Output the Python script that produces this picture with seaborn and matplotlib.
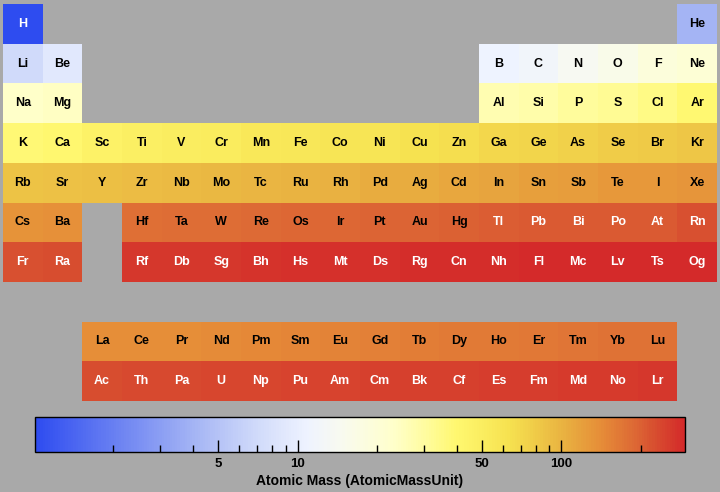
import numpy as np
import pandas as pd
import matplotlib
matplotlib.use("Agg")
import matplotlib.pyplot as plt
import seaborn as sns
from matplotlib.colors import LogNorm, LinearSegmentedColormap
from matplotlib.ticker import FixedLocator, NullFormatter, FixedFormatter

# ---- data ----
symbols = ["H", "He", "Li", "Be", "B", "C", "N", "O", "F", "Ne",
           "Na", "Mg", "Al", "Si", "P", "S", "Cl", "Ar",
           "K", "Ca", "Sc", "Ti", "V", "Cr", "Mn", "Fe", "Co", "Ni", "Cu", "Zn",
           "Ga", "Ge", "As", "Se", "Br", "Kr",
           "Rb", "Sr", "Y", "Zr", "Nb", "Mo", "Tc", "Ru", "Rh", "Pd", "Ag", "Cd",
           "In", "Sn", "Sb", "Te", "I", "Xe",
           "Cs", "Ba", "Hf", "Ta", "W", "Re", "Os", "Ir", "Pt", "Au", "Hg",
           "Tl", "Pb", "Bi", "Po", "At", "Rn",
           "Fr", "Ra", "Rf", "Db", "Sg", "Bh", "Hs", "Mt", "Ds", "Rg", "Cn",
           "Nh", "Fl", "Mc", "Lv", "Ts", "Og",
           "La", "Ce", "Pr", "Nd", "Pm", "Sm", "Eu", "Gd", "Tb", "Dy", "Ho",
           "Er", "Tm", "Yb", "Lu",
           "Ac", "Th", "Pa", "U", "Np", "Pu", "Am", "Cm", "Bk", "Cf", "Es",
           "Fm", "Md", "No", "Lr"]
masses = [1.008, 4.0026, 6.94, 9.0122, 10.81, 12.011, 14.007, 15.999, 18.998, 20.180,
          22.990, 24.305, 26.982, 28.085, 30.974, 32.06, 35.45, 39.948,
          39.098, 40.078, 44.956, 47.867, 50.942, 51.996, 54.938, 55.845, 58.933, 58.693, 63.546, 65.38,
          69.723, 72.630, 74.922, 78.971, 79.904, 83.798,
          85.468, 87.62, 88.906, 91.224, 92.906, 95.95, 98.0, 101.07, 102.91, 106.42, 107.87, 112.41,
          114.82, 118.71, 121.76, 127.60, 126.90, 131.29,
          132.91, 137.33, 178.49, 180.95, 183.84, 186.21, 190.23, 192.22, 195.08, 196.97, 200.59,
          204.38, 207.2, 208.98, 209.0, 210.0, 222.0,
          223.0, 226.0, 267.0, 268.0, 269.0, 270.0, 277.0, 278.0, 281.0, 282.0, 285.0,
          286.0, 289.0, 290.0, 293.0, 294.0, 294.0,
          138.91, 140.12, 140.91, 144.24, 145.0, 150.36, 151.96, 157.25, 158.93, 162.50, 164.93,
          167.26, 168.93, 173.05, 174.97,
          227.0, 232.04, 231.04, 238.03, 237.0, 244.0, 243.0, 247.0, 247.0, 251.0, 252.0,
          257.0, 258.0, 259.0, 266.0]
# table row (period, with f-block rows placed below) and column (group)
rows = ([0, 0] + [1] * 8 + [2] * 8 + [3] * 18 + [4] * 18 + [5] * 17 + [6] * 17
        + [8] * 15 + [9] * 15)
cols = ([0, 17] + [0, 1] + list(range(12, 18)) + [0, 1] + list(range(12, 18))
        + list(range(18)) + list(range(18))
        + [0, 1] + list(range(3, 18)) + [0, 1] + list(range(3, 18))
        + list(range(2, 17)) + list(range(2, 17)))

cbar_ticks = [5, 10, 50, 100]
cbar_minor = [2, 3, 4, 6, 7, 8, 9, 20, 30, 40, 60, 70, 80, 90, 200]
cbar_label = "Atomic Mass (AtomicMassUnit)"

# ---- build grid ----
n_rows, n_cols = 10, 18
grid = np.full((n_rows, n_cols), np.nan)
labels = np.full((n_rows, n_cols), "", dtype=object)
for s, m, r, c in zip(symbols, masses, rows, cols):
    grid[r, c] = m
    labels[r, c] = s
df = pd.DataFrame(grid)

cmap = LinearSegmentedColormap.from_list("mass", [
    (0.00, (46/255, 76/255, 240/255)),
    (0.243, (164/255, 180/255, 244/255)),
    (0.34, (208/255, 218/255, 250/255)),
    (0.418, (238/255, 243/255, 255/255)),
    (0.47, (248/255, 250/255, 240/255)),
    (0.55, (255/255, 255/255, 204/255)),
    (0.60, (255/255, 252/255, 160/255)),
    (0.648, (255/255, 248/255, 112/255)),
    (0.73, (246/255, 226/255, 80/255)),
    (0.78, (238/255, 198/255, 70/255)),
    (0.82, (232/255, 174/255, 64/255)),
    (0.87, (230/255, 142/255, 56/255)),
    (0.93, (220/255, 100/255, 52/255)),
    (0.95, (216/255, 82/255, 48/255)),
    (1.00, (212/255, 42/255, 42/255)),
])

vmin, vmax = min(masses), max(masses)
norm = LogNorm(vmin=vmin, vmax=vmax)

bg = "#a9a9a9"
fig = plt.figure(figsize=(7.2, 4.92), dpi=100, facecolor=bg)
ax = fig.add_axes([3/720, 1 - 401/492, 714/720, 397/492])
cax = fig.add_axes([35/720, 1 - 452/492, 650/720, 35/492])
ax.set_facecolor(bg)

sns.heatmap(df, ax=ax, cmap=cmap, norm=norm, mask=df.isna(), cbar_ax=cax,
            cbar_kws={"orientation": "horizontal"}, linewidths=0,
            xticklabels=False, yticklabels=False)
ax.set_position([3/720, 1 - 401/492, 714/720, 397/492])
ax.set_facecolor(bg)
ax.tick_params(left=False, bottom=False)

font = "Liberation Sans"
for r in range(n_rows):
    for c in range(n_cols):
        if labels[r, c]:
            m = grid[r, c]
            t = norm(m)
            color = "white" if (t < 0.1 or t > 0.934) else "black"
            ax.text(c + 0.5, r + 0.5, labels[r, c], ha="center", va="center",
                    fontsize=9, fontweight="bold", color=color, family=font)

# colorbar styling
cbar = ax.collections[0].colorbar
cbar.outline.set_edgecolor("black")
cbar.outline.set_linewidth(1.0)
cax.xaxis.set_major_locator(FixedLocator(cbar_ticks))
cax.xaxis.set_major_formatter(FixedFormatter([str(v) for v in cbar_ticks]))
cax.xaxis.set_minor_locator(FixedLocator(cbar_minor))
cax.xaxis.set_minor_formatter(NullFormatter())
cax.tick_params(axis="x", which="major", direction="in", length=9, width=1,
                color="black", pad=4, labelsize=9.5)
cax.tick_params(axis="x", which="minor", direction="in", length=5, width=1,
                color="black")
for lbl in cax.get_xticklabels():
    lbl.set_fontweight("bold")
    lbl.set_family(font)
cax.set_xlabel(cbar_label, fontsize=10, fontweight="bold", family=font,
               labelpad=3)

fig.savefig("out.png", dpi=100, facecolor=bg)
